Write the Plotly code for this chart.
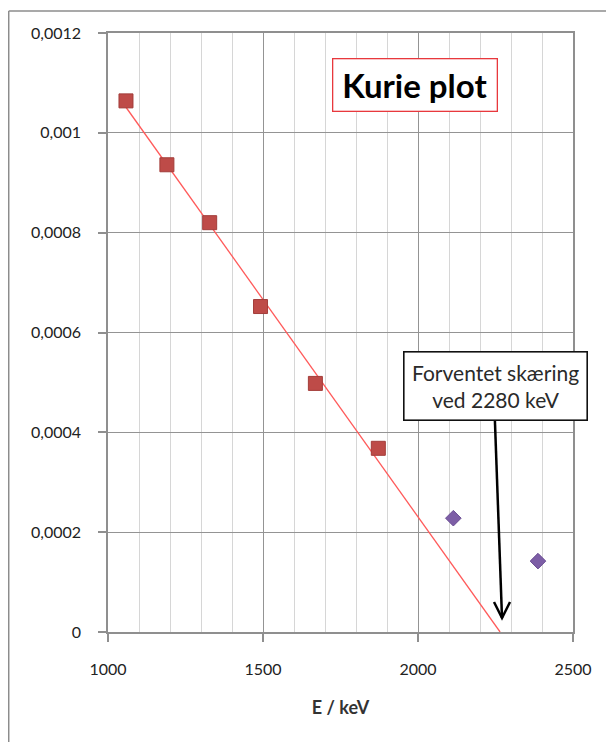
import numpy as np
import plotly.graph_objects as go

# ---- data ----
fit_E = [1058, 1190, 1328, 1492, 1669, 1872]          # keV, red squares (used for fit)
fit_K = [0.001064, 0.000936, 0.000820, 0.000652, 0.000498, 0.000368]
excl_E = [2114, 2387]                                  # keV, purple diamonds (excluded)
excl_K = [0.000228, 0.000142]

x_ticks = [1000, 1500, 2000, 2500]
y_ticks = [0, 0.0002, 0.0004, 0.0006, 0.0008, 0.001, 0.0012]

title_text = "Kurie plot"
note_text = "Forventet skæring<br>ved 2280 keV"
x_title = "E / keV"

# arrow (data coordinates)
arrow_tail = (2248, 0.000425)
arrow_tip = (2271, 0.000028)

# ---- linear trendline through the fitted points, forecast to K = 0 ----
slope, intercept = np.polyfit(fit_E, fit_K, 1)
x_root = -intercept / slope
trend_x = [min(fit_E), x_root]
trend_y = [slope * v + intercept for v in trend_x]

FONT = "Lato"
fig = go.Figure()

fig.add_trace(go.Scatter(x=trend_x, y=trend_y, mode="lines",
                         line=dict(color="#ff5a5a", width=1.3),
                         hoverinfo="skip", showlegend=False))
fig.add_trace(go.Scatter(x=fit_E, y=fit_K, mode="markers",
                         marker=dict(symbol="square", size=14, color="#be4b48",
                                     line=dict(color="#a33d3a", width=1)),
                         showlegend=False))
fig.add_trace(go.Scatter(x=excl_E, y=excl_K, mode="markers",
                         marker=dict(symbol="diamond", size=12, color="#7d5ea6",
                                     line=dict(color="#6a4d93", width=1)),
                         showlegend=False))

fig.update_layout(
    width=606, height=734,
    margin=dict(l=100, r=41, t=25, b=110),
    paper_bgcolor="white", plot_bgcolor="white",
    separators=", ",
    font=dict(family=FONT, size=16, color="#222222"),
    showlegend=False,
)

fig.update_xaxes(
    range=[1000, 2500], tickvals=x_ticks, ticktext=[str(v) for v in x_ticks],
    showgrid=True, gridcolor="#949494", gridwidth=1.3,
    minor=dict(dtick=100, showgrid=True, gridcolor="#d6d6d6", gridwidth=1, ticks=""),
    showline=True, linecolor="#8f8f8f", linewidth=1.5, mirror=True,
    ticks="outside", ticklen=8, tickcolor="#8f8f8f", tickwidth=1.5,
    ticklabelstandoff=14,
    tickfont=dict(family=FONT, size=16, color="#222222"),
    title=dict(text="<b>" + x_title + "</b>", standoff=24,
               font=dict(family=FONT, size=18, color="#333333")),
    zeroline=False,
)
fig.update_yaxes(
    range=[0, 0.0012], tickvals=y_ticks, tickformat=".4~f",
    showgrid=True, gridcolor="#949494", gridwidth=1.3,
    showline=True, linecolor="#8f8f8f", linewidth=1.5, mirror=True,
    ticks="outside", ticklen=8, tickcolor="#8f8f8f", tickwidth=1.5,
    ticklabelstandoff=14,
    tickfont=dict(family=FONT, size=16, color="#222222"),
    zeroline=False,
)

# title box
fig.add_annotation(xref="paper", yref="paper", x=0.661, y=0.914,
                   text="<b>" + title_text + "</b>", showarrow=False,
                   font=dict(family=FONT, size=33, color="#000000"),
                   bgcolor="white", bordercolor="#e8383d", borderwidth=1.3,
                   borderpad=0, width=163, height=51,
                   xanchor="center", yanchor="middle")

# note box
fig.add_annotation(xref="paper", yref="paper", x=0.834, y=0.4115,
                   text=note_text, showarrow=False,
                   font=dict(family=FONT, size=21, color="#2a2a2a"),
                   bgcolor="white", bordercolor="#111111", borderwidth=1.6,
                   borderpad=0, width=182, height=67,
                   xanchor="center", yanchor="middle", align="center")

# arrow shaft
fig.add_shape(type="line", xref="x", yref="y",
              x0=arrow_tail[0], y0=arrow_tail[1], x1=arrow_tip[0], y1=arrow_tip[1],
              line=dict(color="#000000", width=2.5))
# open V arrowhead (pixel-sized, anchored at the tip)
fig.add_shape(type="path", xref="x", yref="y",
              xsizemode="pixel", ysizemode="pixel",
              xanchor=arrow_tip[0], yanchor=arrow_tip[1],
              path="M -8,16 L 0,0 L 8,16",
              line=dict(color="#000000", width=2.5))

# outer chart border (left and top edges visible)
fig.add_shape(type="line", xref="paper", yref="paper",
              x0=-0.2135, y0=-0.2, x1=-0.2135, y1=1.0367,
              line=dict(color="#8c8c8c", width=1.5))
fig.add_shape(type="line", xref="paper", yref="paper",
              x0=-0.2135, y0=1.0367, x1=1.1, y1=1.0367,
              line=dict(color="#8c8c8c", width=1.5))

fig.write_html("out.html")
